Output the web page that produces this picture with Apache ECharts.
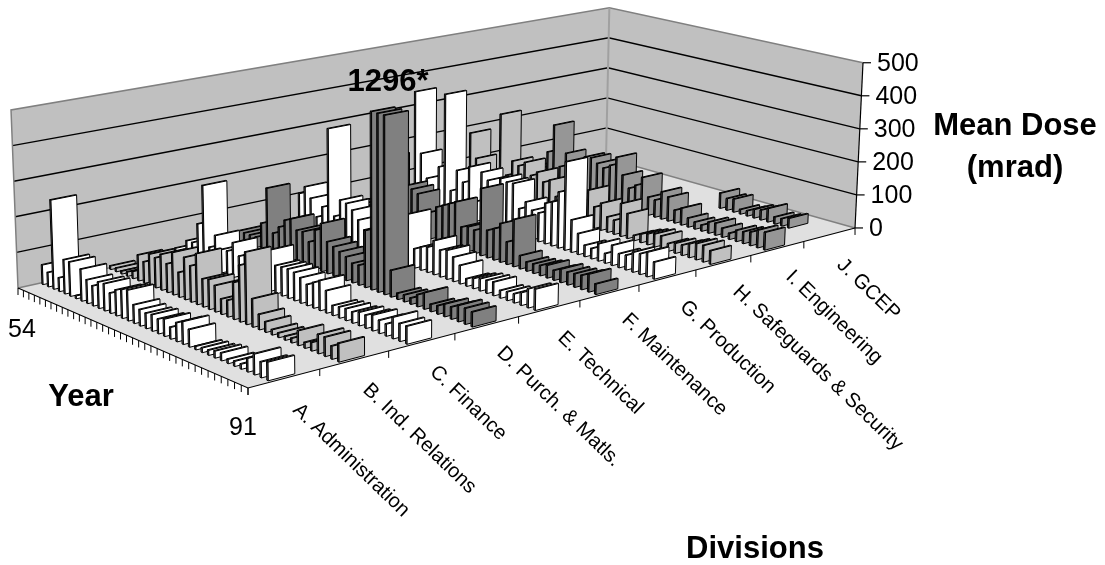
<!DOCTYPE html>
<html>
<head>
<meta charset="utf-8">
<style>html,body{margin:0;padding:0;background:#fff}#main{width:1105px;height:565px}</style>
<script src="https://cdn.jsdelivr.net/npm/echarts@6/dist/echarts.min.js"></script>
</head>
<body>
<div id="main"></div>
<script>
// mean dose per division, one value per year 1954..1991 (null = no bar)
var years = []; for (var yr = 54; yr <= 91; yr++) years.push(yr);
var divisions = ['A. Administration','B. Ind. Relations','C. Finance','D. Purch. & Matls.','E. Technical','F. Maintenance','G. Production','H. Safeguards & Security','I. Engineering','J. GCEP'];
var doseTicks = [0,100,200,300,400,500];
var divA = [55,40,250,38,95,95,8,88,65,55,72,74,55,70,78,83,50,44,41,44,39,46,31,50,60,46,9,12,13,18,20,11,13,13,35,53,40,47];
var divB = [10,10,8,12,20,73,60,88,84,100,80,118,69,117,100,140,77,82,72,42,45,100,153,195,76,41,28,14,12,10,12,39,15,22,50,50,34,48];
var divC = [20,20,54,55,115,232,60,100,66,68,98,66,77,60,60,60,115,78,80,81,78,70,58,70,82,61,27,30,32,30,36,35,42,35,32,57,47,47];
var divD = [30,30,30,30,77,186,60,84,110,120,93,95,72,112,137,91,83,75,67,55,56,160,500,1296,500,74,17,19,17,33,45,20,23,34,33,44,43,40];
var divE = [103,129,100,50,86,326,70,124,120,106,83,60,60,60,60,60,60,60,149,55,66,72,97,76,82,69,52,21,28,34,36,38,21,24,25,35,52,58];
var divF = [40,40,40,40,40,205,50,50,135,130,122,60,79,100,111,122,133,65,72,68,196,80,91,112,65,136,38,26,27,29,36,28,38,36,38,40,50,29];
var divG = [345,157,85,50,132,362,70,138,107,160,60,155,136,70,153,148,150,80,106,87,85,120,130,165,260,95,61,33,30,50,28,58,40,42,57,59,70,48];
var divH = [180,105,60,60,60,266,80,130,121,137,102,118,93,105,60,70,70,60,70,109,64,81,46,42,98,74,15,25,32,38,38,22,29,30,40,47,48,39];
var divI = [40,40,40,40,106,197,70,118,60,60,123,126,114,105,119,150,100,65,80,110,55,52,83,73,39,51,27,21,18,33,36,27,18,33,35,40,52,52];
var divJ = [null,null,null,null,null,null,null,null,null,null,null,null,null,null,null,null,null,null,null,null,null,null,null,47,36,40,14,16,26,30,41,21,22,29,null,null,null,null];
var allDivs = [divA,divB,divC,divD,divE,divF,divG,divH,divI,divJ];
var divColors = ['#ffffff','#c0c0c0','#ffffff','#808080','#ffffff','#808080','#ffffff','#c0c0c0','#969696','#969696'];
var sideColors = ['#808080','#606060','#808080','#404040','#808080','#404040','#808080','#606060','#4b4b4b','#4b4b4b'];
var topColors = ['#f0f0f0','#c0c0c0','#f0f0f0','#808080','#f0f0f0','#808080','#f0f0f0','#c0c0c0','#969696','#969696'];
var axisMax = 500;

// u runs along years (54 -> 91), v along divisions (A -> J), homography fitted to the floor corners
function project(u, v, val) {
  var w = 1 - 0.1069 * u + 0.1843 * v;
  var x = (203.5 * u + 699.7 * v + 18) / w;
  var y = (58.5 * u - 100.9 * v + 288) / w;
  var h = (val || 0) / 100 * 35.6 / w;
  var t = h / (9820 - y);
  return [x + (x - 392) * t, y - h];
}

var barData = [];
for (var d = allDivs.length - 1; d >= 0; d--) {
  for (var i = 0; i < years.length; i++) {
    if (allDivs[d][i] != null) barData.push([i, d, allDivs[d][i]]);
  }
}

function renderBar(params, api) {
  var yi = api.value(0), d = api.value(1), val = Math.min(api.value(2), axisMax);
  var n = years.length;
  var u0 = (yi + 0.5 - 0.11) / n, u1 = (yi + 0.5 + 0.11) / n;
  var vc = 0.05 + d * 0.1;
  var v0 = vc - 0.0185, v1 = vc + 0.0185;
  function p(u, v, h) { return api.coord(project(u, v, h)); }
  function face(pts, fill) {
    return { type: 'polygon', shape: { points: pts }, style: { fill: fill, stroke: '#000', lineWidth: 1 } };
  }
  return { type: 'group', children: [
    face([p(u0,v0,0), p(u1,v0,0), p(u1,v0,val), p(u0,v0,val)], sideColors[d]),
    face([p(u0,v0,val), p(u1,v0,val), p(u1,v1,val), p(u0,v1,val)], topColors[d]),
    face([p(u1,v0,0), p(u1,v1,0), p(u1,v1,val), p(u1,v0,val)], divColors[d])
  ] };
}

function renderFrame(params, api) {
  function p(u, v, h) { return api.coord(project(u, v, h)); }
  function line(pts, color, width) {
    return { type: 'polyline', shape: { points: pts }, style: { fill: null, stroke: color, lineWidth: width } };
  }
  function txt(str, x, y, size, bold, align, rot) {
    var c = api.coord([x, y]);
    return { type: 'text', x: c[0], y: c[1], rotation: rot || 0, style: {
      text: str, fontFamily: 'Liberation Sans', fontSize: size, fontWeight: bold ? 'bold' : 'normal',
      fill: '#000', align: align, verticalAlign: 'middle' } };
  }
  var kids = [];
  kids.push({ type: 'polygon', shape: { points: [p(0,0,0), p(0,1,0), p(0,1,axisMax), p(0,0,axisMax)] }, style: { fill: '#c0c0c0' } });
  kids.push({ type: 'polygon', shape: { points: [p(0,1,0), p(1,1,0), p(1,1,axisMax), p(0,1,axisMax)] }, style: { fill: '#c0c0c0' } });
  kids.push({ type: 'polygon', shape: { points: [p(0,0,0), p(1,0,0), p(1,1,0), p(0,1,0)] }, style: { fill: '#e0e0e0' } });
  doseTicks.forEach(function (t) {
    if (t === 0 || t === axisMax) return;
    kids.push(line([p(0,0,t), p(0,1,t), p(1,1,t)], '#000', 1.4));
  });
  kids.push(line([p(0,0,0), p(0,1,0), p(1,1,0)], '#808080', 1.5));
  kids.push(line([p(0,0,0), p(0,0,axisMax), p(0,1,axisMax), p(1,1,axisMax)], '#808080', 1.5));
  kids.push(line([p(0,1,0), p(0,1,axisMax)], '#a0a0a0', 2));
  kids.push(line([p(1,1,0), p(1,1,axisMax)], '#000', 1.2));
  kids.push(line([p(0,0,0), p(1,0,0), p(1,1,0)], '#000', 1.2));
  // year ticks along the left front edge, division ticks along the right one
  for (var i = 0; i <= years.length; i++) {
    var a = project(i / years.length, 0, 0);
    kids.push(line([api.coord(a), api.coord([a[0], a[1] + 7])], '#000', 1));
  }
  for (var k = 0; k <= divisions.length; k++) {
    var b = project(1, k / divisions.length, 0);
    kids.push(line([api.coord(b), api.coord([b[0], b[1] + 7])], '#000', 1));
  }
  doseTicks.forEach(function (t) {
    var e = project(1, 1, t);
    kids.push(line([api.coord(e), api.coord([e[0] + 8, e[1]])], '#000', 1.2));
    kids.push(txt(String(t), e[0] + 14, e[1] + 1, 25, false, 'left'));
  });
  return { type: 'group', children: kids };
}

function renderLabels(params, api) {
  var kids = [];
  function txt(str, x, y, size, bold, align, rot) {
    var c = api.coord([x, y]);
    kids.push({ type: 'text', x: c[0], y: c[1], rotation: rot || 0, style: {
      text: str, fontFamily: 'Liberation Sans', fontSize: size, fontWeight: bold ? 'bold' : 'normal',
      fill: '#000', align: align, verticalAlign: 'middle' } });
  }
  var labelX = [296,366,433,500,561,625,683,736,789,840];
  var labelY = [407,387,369,350,335,317,304,289,274,262];
  divisions.forEach(function (name, k) {
    txt(name, labelX[k], labelY[k], 20.3, false, 'left', -44 * Math.PI / 180);
  });
  txt(String(years[0]), 22, 330, 25, false, 'center');
  txt(String(years[years.length - 1]), 243, 428, 25, false, 'center');
  txt('Year', 81, 397, 31, true, 'center');
  txt('Mean Dose', 1015, 126, 31, true, 'center');
  txt('(mrad)', 1015, 168, 31, true, 'center');
  txt('Divisions', 755, 549, 31, true, 'center');
  txt('1296*', 388, 82, 31, true, 'center');
  return { type: 'group', children: kids };
}

var chart = echarts.init(document.getElementById('main'), null, { renderer: 'canvas' });
chart.setOption({
  animation: false,
  backgroundColor: '#fff',
  grid: { left: 0, right: 0, top: 0, bottom: 0 },
  xAxis: { type: 'value', min: 0, max: 1105, show: false },
  yAxis: { type: 'value', min: 0, max: 565, inverse: true, show: false },
  series: [
    { type: 'custom', name: 'frame', silent: true, clip: false, renderItem: renderFrame, data: [[0, 0]], z: 1 },
    { type: 'custom', name: 'dose', silent: true, clip: false, renderItem: renderBar, data: barData, z: 2,
      encode: { x: 0, y: 1 } },
    { type: 'custom', name: 'labels', silent: true, clip: false, renderItem: renderLabels, data: [[0, 0]], z: 3 }
  ]
});
</script>
</body>
</html>
